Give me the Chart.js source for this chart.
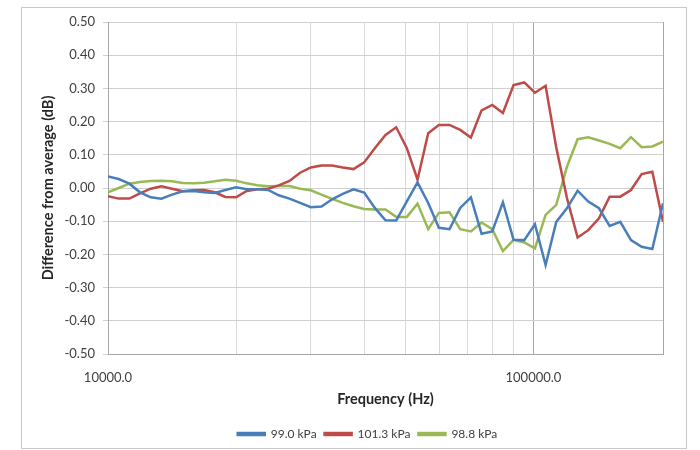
<!DOCTYPE html>
<html>
<head>
<meta charset="utf-8">
<script src="https://cdn.jsdelivr.net/npm/chart.js@4.4.1/dist/chart.umd.min.js"></script>
<style>
  body { margin: 0; background: #fff; }
  canvas { display: block; }
</style>
</head>
<body>
<canvas id="chart" width="700" height="450"></canvas>
<script>
// 1/12-octave frequencies (Hz)
const freqs = [
  10000, 10595, 11225, 11892, 12599, 13348, 14142, 14983, 15874, 16818, 17818, 18877,
  20000, 21189, 22449, 23784, 25198, 26697, 28284, 29966, 31748, 33636, 35636, 37755,
  40000, 42379, 44898, 47568, 50397, 53394, 56569, 59932, 63496, 67272, 71272, 75510,
  80000, 84757, 89797, 95137, 100794, 106787, 113137, 119865, 126992, 134543, 142544, 151021,
  160000, 169514, 179594, 190273, 201587
];

const kpa990 = [
  0.035, 0.027, 0.013, -0.013, -0.028, -0.032, -0.020, -0.010, -0.009, -0.013, -0.015, -0.006,
  0.002, -0.004, -0.004, -0.006, -0.022, -0.032, -0.045, -0.058, -0.056, -0.034, -0.018, -0.004,
  -0.014, -0.060, -0.097, -0.098, -0.040, 0.017, -0.045, -0.120, -0.124, -0.060, -0.028, -0.138,
  -0.131, -0.043, -0.156, -0.157, -0.109, -0.232, -0.102, -0.061, -0.008, -0.041, -0.061, -0.114,
  -0.102, -0.157, -0.177, -0.184, -0.046
];

const kpa1013 = [
  -0.025, -0.032, -0.032, -0.016, -0.002, 0.005, -0.002, -0.010, -0.007, -0.006, -0.013, -0.027,
  -0.028, -0.009, -0.004, -0.002, 0.008, 0.021, 0.046, 0.062, 0.068, 0.068, 0.062, 0.057,
  0.077, 0.120, 0.160, 0.183, 0.120, 0.025, 0.165, 0.190, 0.190, 0.175, 0.152, 0.234,
  0.250, 0.226, 0.310, 0.318, 0.287, 0.308, 0.122, -0.030, -0.149, -0.127, -0.091, -0.026,
  -0.026, -0.006, 0.042, 0.049, -0.102
];

const kpa988 = [
  -0.013, 0.000, 0.013, 0.018, 0.021, 0.022, 0.020, 0.015, 0.014, 0.016, 0.020, 0.025,
  0.022, 0.014, 0.008, 0.005, 0.006, 0.006, -0.002, -0.007, -0.020, -0.033, -0.045, -0.055,
  -0.063, -0.065, -0.065, -0.087, -0.087, -0.047, -0.124, -0.075, -0.073, -0.124, -0.131, -0.104,
  -0.124, -0.190, -0.156, -0.164, -0.182, -0.081, -0.051, 0.064, 0.147, 0.153, 0.143, 0.133,
  0.120, 0.153, 0.123, 0.125, 0.140
];

const xGridTicks = [10000, 20000, 30000, 40000, 50000, 60000, 70000, 80000, 90000, 100000];
const xLabelTicks = [10000, 100000];

const FONT = "Lato, 'Open Sans', sans-serif";

function toPoints(vals) {
  return freqs.map((f, i) => ({ x: f, y: vals[i] }));
}

function series(label, vals, color) {
  return {
    label: label,
    data: toPoints(vals),
    borderColor: color,
    backgroundColor: color,
    borderWidth: 2.5,
    pointRadius: 0,
    tension: 0
  };
}

const frame = {
  id: "frame",
  beforeDraw(chart) {
    // shift legend to match the original centring
    chart.legend.left += 36;
    chart.legend.right += 36;
  },
  afterDraw(chart) {
    const ctx = chart.ctx;
    const a = chart.chartArea;
    ctx.save();
    ctx.strokeStyle = "#a6a6a6";
    ctx.lineWidth = 1;
    ctx.beginPath();
    ctx.moveTo(Math.round(a.right) + 0.5, a.top);
    ctx.lineTo(Math.round(a.right) + 0.5, a.bottom);
    ctx.stroke();
    ctx.strokeStyle = "#c8c8c8";
    ctx.strokeRect(21.5, 7.5, 665, 441);
    ctx.restore();
  }
};

new Chart(document.getElementById("chart").getContext("2d"), {
  type: "line",
  data: {
    datasets: [
      series("99.0 kPa", kpa990, "#4a7ebb"),
      series("101.3 kPa", kpa1013, "#be4b48"),
      series("98.8 kPa", kpa988, "#98b954")
    ]
  },
  options: {
    responsive: false,
    animation: false,
    layout: { padding: { left: 0, right: 37, top: 22, bottom: 0 } },
    plugins: {
      tooltip: { enabled: false },
      legend: {
        position: "bottom",
        labels: {
          boxWidth: 27,
          boxHeight: 2,
          padding: 8,
          color: "#404040",
          font: { family: FONT, size: 12 }
        }
      }
    },
    scales: {
      x: {
        type: "logarithmic",
        min: freqs[0],
        max: freqs[freqs.length - 1],
        afterBuildTicks: (scale) => {
          scale.ticks = xGridTicks.map(v => ({ value: v }));
        },
        afterFit: (scale) => { scale.height = 66; },
        ticks: {
          autoSkip: false,
          maxRotation: 0,
          padding: 16,
          color: "#404040",
          font: { family: FONT, size: 13 },
          callback: (v) => xLabelTicks.includes(v) ? v.toFixed(1) : ""
        },
        grid: {
          drawTicks: false,
          color: (c) => c.tick && c.tick.value === 100000 ? "#a6a6a6" : "#d9d9d9",
          lineWidth: 1
        },
        border: { display: true, color: "#a6a6a6" },
        title: {
          display: true,
          text: "Frequency (Hz)",
          color: "#262626",
          font: { family: FONT, size: 14.5, weight: "bold" },
          padding: { top: 0, bottom: 12 }
        }
      },
      y: {
        min: -0.5,
        max: 0.5,
        afterFit: (scale) => { scale.width = 108; },
        ticks: {
          stepSize: 0.1,
          padding: 8,
          color: "#404040",
          font: { family: FONT, size: 13 },
          callback: (v) => (Math.abs(v) < 1e-9 ? 0 : v).toFixed(2)
        },
        grid: {
          color: "#d0d0d0",
          tickLength: 5,
          lineWidth: 1
        },
        border: { display: true, color: "#a6a6a6" },
        title: {
          display: true,
          text: "Difference from average (dB)",
          color: "#262626",
          font: { family: FONT, size: 14.5, weight: "bold" },
          padding: { top: 40, bottom: 0 }
        }
      }
    }
  },
  plugins: [frame]
});
</script>
</body>
</html>
